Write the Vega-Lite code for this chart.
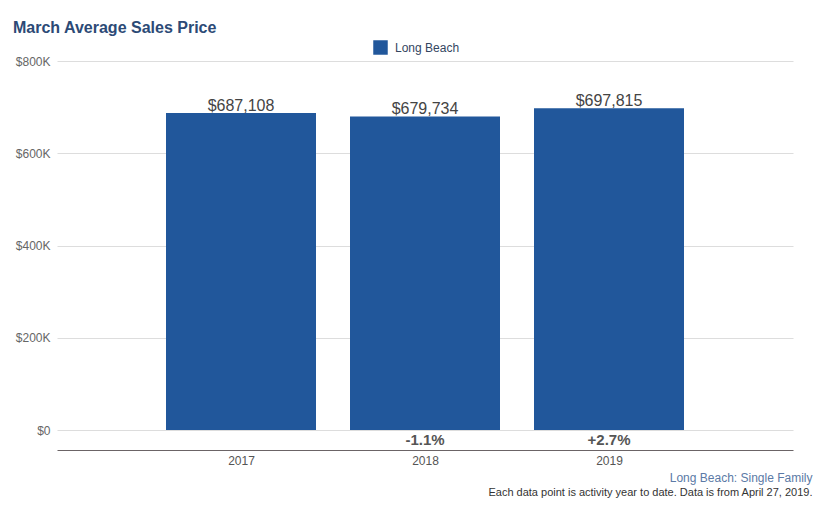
{
  "$schema": "https://vega.github.io/schema/vega-lite/v6.json",
  "width": 736,
  "height": 389,
  "autosize": {"type": "none"},
  "padding": {"left": 57, "top": 61, "right": 35, "bottom": 55},
  "background": "white",
  "config": {
    "font": "Liberation Sans",
    "view": {"stroke": null}
  },
  "title": {
    "text": "March Average Sales Price",
    "anchor": "start",
    "frame": "group",
    "dx": -44,
    "dy": 15,
    "offset": 6,
    "baseline": "alphabetic",
    "fontSize": 16,
    "fontWeight": "bold",
    "color": "#2c4a76"
  },
  "data": {
    "values": [
      {"year": 2017, "price": 687108, "pct": "", "area": "Long Beach"},
      {"year": 2018, "price": 679734, "pct": "-1.1%", "area": "Long Beach"},
      {"year": 2019, "price": 697815, "pct": "+2.7%", "area": "Long Beach"}
    ]
  },
  "resolve": {"axis": {"x": "independent"}},
  "layer": [
    {
      "mark": {"type": "bar", "size": 150},
      "encoding": {
        "x": {
          "field": "year",
          "type": "quantitative",
          "scale": {"domain": [2016, 2020], "nice": false, "zero": false, "padding": 0},
          "axis": {
            "orient": "bottom",
            "values": [2017, 2018, 2019],
            "format": "d",
            "grid": false,
            "ticks": false,
            "domainColor": "#6b6466",
            "domainWidth": 1,
            "labelColor": "#555555",
            "labelFontSize": 12,
            "labelPadding": 5,
            "title": "Long Beach: Single Family",
            "titleColor": "#5b7aa6",
            "titleFontSize": 12,
            "titleFontWeight": "normal",
            "titleAlign": "right",
            "titleAnchor": null,
            "titleX": 755,
            "titleY": 27,
            "titleBaseline": "middle"
          }
        },
        "y": {
          "field": "price",
          "type": "quantitative",
          "scale": {"domain": [-43360, 800000], "nice": false, "zero": false},
          "axis": {
            "values": [0, 200000, 400000, 600000, 800000],
            "labelExpr": "datum.value == 0 ? '$0' : '$' + (datum.value / 1000) + 'K'",
            "domain": false,
            "ticks": false,
            "gridColor": "#dddddd",
            "gridWidth": 1,
            "labelColor": "#666666",
            "labelFontSize": 12,
            "labelPadding": 7,
            "title": null
          }
        },
        "y2": {"datum": 0},
        "color": {
          "field": "area",
          "type": "nominal",
          "scale": {"range": ["#21579b"]},
          "legend": {
            "title": null,
            "orient": "none",
            "legendX": 316,
            "legendY": -21,
            "symbolType": "square",
            "symbolSize": 210,
            "symbolStrokeWidth": 0,
            "symbolOpacity": 1,
            "labelFontSize": 12,
            "labelColor": "#34465f",
            "labelOffset": 7
          }
        }
      }
    },
    {
      "mark": {"type": "text", "baseline": "alphabetic", "dy": -2, "fontSize": 16, "color": "#444444"},
      "encoding": {
        "x": {
          "field": "year",
          "type": "quantitative",
          "axis": {
            "orient": "bottom",
            "offset": 0,
            "labels": false,
            "domain": false,
            "ticks": false,
            "grid": false,
            "title": "Each data point is activity year to date. Data is from April 27, 2019.",
            "titleColor": "#333333",
            "titleFontSize": 11,
            "titleFontWeight": "normal",
            "titleAlign": "right",
            "titleAnchor": null,
            "titleX": 755,
            "titleY": 42,
            "titleBaseline": "middle"
          }
        },
        "y": {"field": "price", "type": "quantitative"},
        "text": {"field": "price", "type": "quantitative", "format": "$,.0f"}
      }
    },
    {
      "mark": {"type": "text", "baseline": "middle", "fontSize": 15, "fontWeight": "bold", "color": "#555555"},
      "encoding": {
        "x": {"field": "year", "type": "quantitative", "axis": null},
        "y": {"datum": -21680, "type": "quantitative"},
        "text": {"field": "pct", "type": "nominal"}
      }
    }
  ]
}
